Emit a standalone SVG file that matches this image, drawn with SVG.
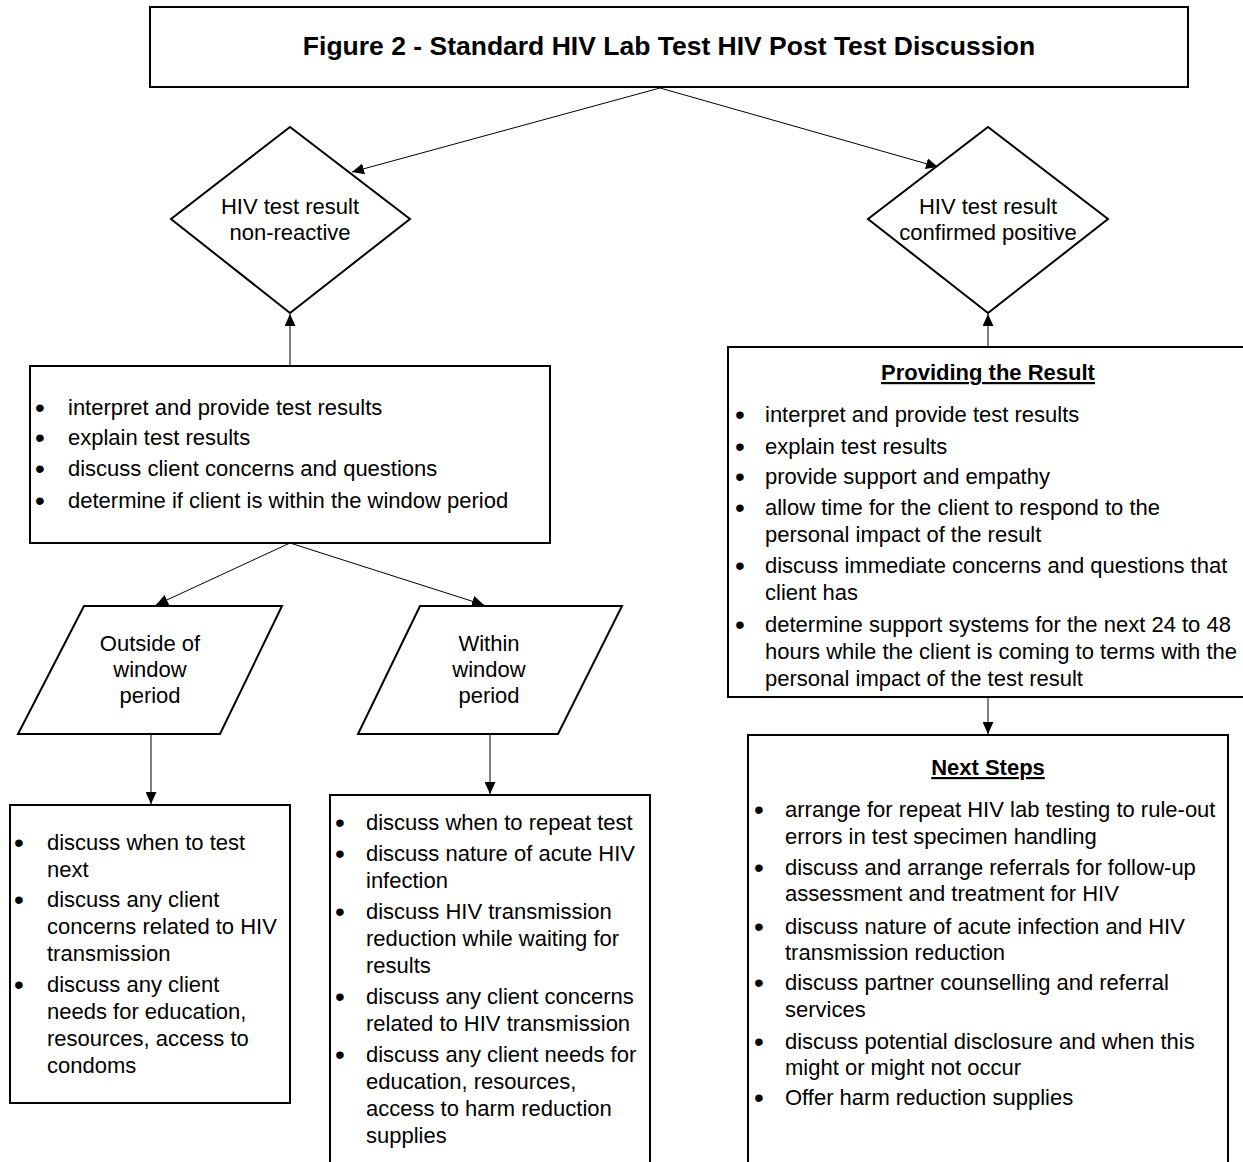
<svg xmlns="http://www.w3.org/2000/svg" width="1243" height="1162" viewBox="0 0 1243 1162">
<style>
  .box { fill: #fff; stroke: #000; stroke-width: 2; }
  .conn { stroke: #000; stroke-width: 1; fill: none; }
  text { font-family: "Liberation Sans", Arial, sans-serif; font-size: 22px; fill: #000; }
  .title { font-size: 26.5px; font-weight: bold; }
  .head { font-weight: bold; text-decoration: underline; }
  .c { text-anchor: middle; }
  .b { font-size: 28px; }
</style>
<defs>
  <marker id="arrow" markerUnits="userSpaceOnUse" markerWidth="13" markerHeight="11" refX="12" refY="5.5" orient="auto">
    <path d="M0,0 L12,5.5 L0,11 z" fill="#000"/>
  </marker>
</defs>
<rect width="1243" height="1162" fill="#fff"/>

<g id="connectors">
  <line class="conn" x1="660" y1="88" x2="352" y2="172" marker-end="url(#arrow)"/>
  <line class="conn" x1="660" y1="88" x2="938" y2="167" marker-end="url(#arrow)"/>
  <line class="conn" x1="290" y1="366" x2="290" y2="314" marker-end="url(#arrow)"/>
  <line class="conn" x1="988" y1="347" x2="988" y2="314" marker-end="url(#arrow)"/>
  <line class="conn" x1="290" y1="543" x2="156" y2="605" marker-end="url(#arrow)"/>
  <line class="conn" x1="290" y1="543" x2="484" y2="605" marker-end="url(#arrow)"/>
  <line class="conn" x1="151" y1="735" x2="151" y2="804" marker-end="url(#arrow)"/>
  <line class="conn" x1="490" y1="735" x2="490" y2="794" marker-end="url(#arrow)"/>
  <line class="conn" x1="988" y1="697" x2="988" y2="734" marker-end="url(#arrow)"/>
</g>

<g id="title">
  <rect class="box" x="150" y="7" width="1038" height="80"/>
  <text class="title c" x="669" y="55">Figure 2 - Standard HIV Lab Test HIV Post Test Discussion</text>
</g>

<g id="non-reactive">
  <polygon class="box" points="290,127 410,219 290,313 171,219"/>
  <text class="c" x="290" y="214">HIV test result</text>
  <text class="c" x="290" y="240">non-reactive</text>
</g>

<g id="confirmed-positive">
  <polygon class="box" points="988,127 1108,219 988,313 868,219"/>
  <text class="c" x="988" y="214">HIV test result</text>
  <text class="c" x="988" y="240">confirmed positive</text>
</g>

<g id="interpret-box">
  <rect class="box" x="30" y="366" width="520" height="177"/>
  <text class="b" x="35" y="417">•</text><text x="68" y="415">interpret and provide test results</text>
  <text class="b" x="35" y="447">•</text><text x="68" y="445">explain test results</text>
  <text class="b" x="35" y="478">•</text><text x="68" y="476">discuss client concerns and questions</text>
  <text class="b" x="35" y="510">•</text><text x="68" y="508">determine if client is within the window period</text>
</g>

<g id="outside-window">
  <polygon class="box" points="84,606 282,606 220,734 18,734"/>
  <text class="c" x="150" y="651">Outside of</text>
  <text class="c" x="150" y="677">window</text>
  <text class="c" x="150" y="703">period</text>
</g>

<g id="within-window">
  <polygon class="box" points="420,606 622,606 558,734 358,734"/>
  <text class="c" x="489" y="651">Within</text>
  <text class="c" x="489" y="677">window</text>
  <text class="c" x="489" y="703">period</text>
</g>

<g id="outside-steps">
  <rect class="box" x="10" y="805" width="280" height="298"/>
  <text class="b" x="14" y="852">•</text><text x="47" y="850">discuss when to test</text>
  <text x="47" y="877">next</text>
  <text class="b" x="14" y="909">•</text><text x="47" y="907">discuss any client</text>
  <text x="47" y="934">concerns related to HIV</text>
  <text x="47" y="961">transmission</text>
  <text class="b" x="14" y="994">•</text><text x="47" y="992">discuss any client</text>
  <text x="47" y="1019">needs for education,</text>
  <text x="47" y="1046">resources, access to</text>
  <text x="47" y="1073">condoms</text>
</g>

<g id="within-steps">
  <rect class="box" x="330" y="795" width="320" height="400"/>
  <text class="b" x="335" y="832">•</text><text x="366" y="830">discuss when to repeat test</text>
  <text class="b" x="335" y="863">•</text><text x="366" y="861">discuss nature of acute HIV</text>
  <text x="366" y="888">infection</text>
  <text class="b" x="335" y="921">•</text><text x="366" y="919">discuss HIV transmission</text>
  <text x="366" y="946">reduction while waiting for</text>
  <text x="366" y="973">results</text>
  <text class="b" x="335" y="1006">•</text><text x="366" y="1004">discuss any client concerns</text>
  <text x="366" y="1031">related to HIV transmission</text>
  <text class="b" x="335" y="1064">•</text><text x="366" y="1062">discuss any client needs for</text>
  <text x="366" y="1089">education, resources,</text>
  <text x="366" y="1116">access to harm reduction</text>
  <text x="366" y="1143">supplies</text>
</g>

<g id="providing-result">
  <rect class="box" x="728" y="347" width="522" height="350"/>
  <text class="head c" x="988" y="380">Providing the Result</text>
  <text class="b" x="735" y="424">•</text><text x="765" y="422">interpret and provide test results</text>
  <text class="b" x="735" y="456">•</text><text x="765" y="454">explain test results</text>
  <text class="b" x="735" y="486">•</text><text x="765" y="484">provide support and empathy</text>
  <text class="b" x="735" y="517">•</text><text x="765" y="515">allow time for the client to respond to the</text>
  <text x="765" y="542">personal impact of the result</text>
  <text class="b" x="735" y="575">•</text><text x="765" y="573">discuss immediate concerns and questions that</text>
  <text x="765" y="600">client has</text>
  <text class="b" x="735" y="634">•</text><text x="765" y="632">determine support systems for the next 24 to 48</text>
  <text x="765" y="659">hours while the client is coming to terms with the</text>
  <text x="765" y="686">personal impact of the test result</text>
</g>

<g id="next-steps">
  <rect class="box" x="748" y="735" width="480" height="460"/>
  <text class="head c" x="988" y="775">Next Steps</text>
  <text class="b" x="754" y="819">•</text><text x="785" y="817">arrange for repeat HIV lab testing to rule-out</text>
  <text x="785" y="844">errors in test specimen handling</text>
  <text class="b" x="754" y="877">•</text><text x="785" y="875">discuss and arrange referrals for follow-up</text>
  <text x="785" y="901">assessment and treatment for HIV</text>
  <text class="b" x="754" y="936">•</text><text x="785" y="934">discuss nature of acute infection and HIV</text>
  <text x="785" y="960">transmission reduction</text>
  <text class="b" x="754" y="992">•</text><text x="785" y="990">discuss partner counselling and referral</text>
  <text x="785" y="1017">services</text>
  <text class="b" x="754" y="1051">•</text><text x="785" y="1049">discuss potential disclosure and when this</text>
  <text x="785" y="1075">might or might not occur</text>
  <text class="b" x="754" y="1107">•</text><text x="785" y="1105">Offer harm reduction supplies</text>
</g>
</svg>
